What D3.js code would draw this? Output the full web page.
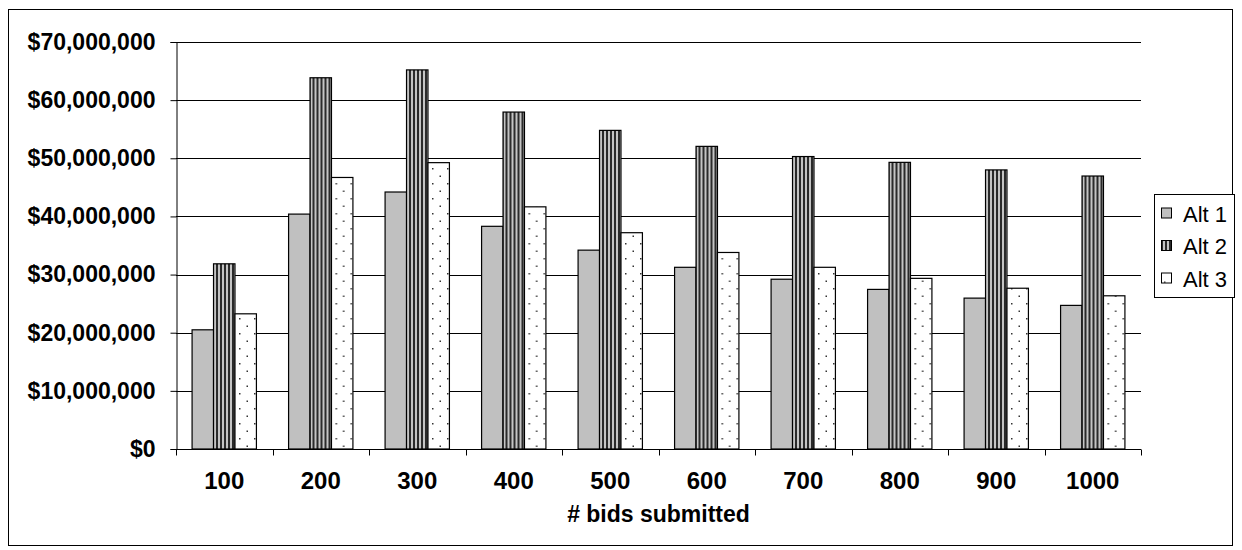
<!DOCTYPE html>
<html>
<head>
<meta charset="utf-8">
<script src="https://cdn.jsdelivr.net/npm/d3@7"></script>
<style>
  html, body { margin: 0; padding: 0; background: #fff; }
  svg { display: block; }
</style>
</head>
<body>
<svg id="chart" width="1242" height="550"></svg>
<script>
// Bid counts along the x axis
const categories = ["100", "200", "300", "400", "500", "600", "700", "800", "900", "1000"];
const seriesNames = ["Alt 1", "Alt 2", "Alt 3"];

// Dollar totals per alternative
const alt1 = [20500000, 40400000, 44200000, 38300000, 34200000, 31250000, 29200000, 27450000, 25950000, 24700000];
const alt2 = [31850000, 63850000, 65200000, 57950000, 54800000, 52050000, 50300000, 49300000, 48000000, 46950000];
const alt3 = [23250000, 46700000, 49250000, 41650000, 37200000, 33800000, 31250000, 29350000, 27650000, 26350000];

const yTicks = [0, 10000000, 20000000, 30000000, 40000000, 50000000, 60000000, 70000000];

const svg = d3.select("#chart");
const plot = { left: 176, right: 1141, top: 42, bottom: 449 };
const FONT = "'Liberation Sans', Arial, sans-serif";

// Fill patterns
const defs = svg.append("defs");
const stripes = defs.append("pattern")
  .attr("id", "stripes").attr("patternUnits", "userSpaceOnUse")
  .attr("width", 4).attr("height", 4);
stripes.append("rect").attr("width", 4).attr("height", 4).attr("fill", "#c4c4c4");
stripes.append("rect").attr("width", 2).attr("height", 4).attr("fill", "#2a2a2a");

const dots = defs.append("pattern")
  .attr("id", "dots").attr("patternUnits", "userSpaceOnUse")
  .attr("width", 15).attr("height", 15);
dots.append("rect").attr("width", 15).attr("height", 15).attr("fill", "#fff");
dots.append("rect").attr("x", 3).attr("y", 3).attr("width", 1.5).attr("height", 1.5).attr("fill", "#333");
dots.append("rect").attr("x", 10.5).attr("y", 10.5).attr("width", 1.5).attr("height", 1.5).attr("fill", "#333");

const fills = ["#c0c0c0", "url(#stripes)", "url(#dots)"];

// Outer frame
svg.append("rect")
  .attr("x", 8.5).attr("y", 9.5).attr("width", 1224).attr("height", 536)
  .attr("fill", "#fff").attr("stroke", "#000").attr("stroke-width", 1);

const x0 = d3.scaleBand().domain(categories).range([plot.left, plot.right]).padding(0);
const x1 = d3.scaleBand().domain(seriesNames)
  .range([x0.bandwidth() / 6, x0.bandwidth() * 5 / 6]).padding(0);
const y = d3.scaleLinear().domain([0, 70000000]).range([plot.bottom, plot.top]);

// Gridlines
svg.append("g").selectAll("line").data(yTicks.filter(d => d > 0)).join("line")
  .attr("x1", plot.left).attr("x2", plot.right)
  .attr("y1", d => Math.round(y(d)) + 0.5).attr("y2", d => Math.round(y(d)) + 0.5)
  .attr("stroke", "#000").attr("stroke-width", 1);

// Bars
const rows = categories.map((c, i) => ({ cat: c, vals: [alt1[i], alt2[i], alt3[i]] }));
const groups = svg.append("g").selectAll("g").data(rows).join("g")
  .attr("transform", d => `translate(${x0(d.cat)},0)`);
groups.selectAll("rect")
  .data(d => d.vals.map((v, k) => ({ name: seriesNames[k], v, k })))
  .join("rect")
  .attr("x", d => x1(d.name))
  .attr("y", d => y(d.v))
  .attr("width", x1.bandwidth())
  .attr("height", d => y(0) - y(d.v))
  .attr("fill", d => fills[d.k])
  .attr("stroke", "#000").attr("stroke-width", 1.2);

// Y axis
const yAxis = d3.axisLeft(y).tickValues(yTicks).tickSize(6).tickPadding(15)
  .tickFormat(d => "$" + d3.format(",")(d));
const gy = svg.append("g").attr("transform", `translate(${plot.left + 0.5},0)`).call(yAxis);
gy.selectAll("text")
  .attr("font-family", FONT)
  .attr("font-weight", "bold").attr("font-size", 23).attr("fill", "#000");
gy.selectAll("line, path").attr("stroke", "#000");

// X axis: ticks sit on category boundaries
const gx = svg.append("g").attr("transform", `translate(0,${plot.bottom + 0.5})`);
gx.append("line").attr("x1", plot.left).attr("x2", plot.right).attr("stroke", "#000");
gx.selectAll("line.tick").data(categories.concat(["end"])).join("line")
  .attr("class", "tick")
  .attr("x1", (d, i) => Math.round(plot.left + i * x0.step()) + 0.5)
  .attr("x2", (d, i) => Math.round(plot.left + i * x0.step()) + 0.5)
  .attr("y1", 0).attr("y2", 6).attr("stroke", "#000");
gx.selectAll("text").data(categories).join("text")
  .attr("x", d => x0(d) + x0.bandwidth() / 2)
  .attr("y", 39)
  .attr("text-anchor", "middle")
  .attr("font-family", FONT)
  .attr("font-weight", "bold").attr("font-size", 24)
  .text(d => d);

// Axis title
svg.append("text")
  .attr("x", (plot.left + plot.right) / 2).attr("y", 522)
  .attr("text-anchor", "middle")
  .attr("font-family", FONT)
  .attr("font-weight", "bold").attr("font-size", 23)
  .text("# bids submitted");

// Legend
const lg = svg.append("g");
lg.append("rect").attr("x", 1154.5).attr("y", 194.5).attr("width", 80).attr("height", 103)
  .attr("fill", "#fff").attr("stroke", "#000");
const items = lg.selectAll("g").data(seriesNames).join("g")
  .attr("transform", (d, i) => `translate(1161,${213.5 + i * 32.5})`);
items.append("rect").attr("x", 0.5).attr("y", -5.5).attr("width", 10).attr("height", 10)
  .attr("fill", (d, i) => fills[i]).attr("stroke", "#000");
items.append("text").attr("x", 22).attr("y", 8)
  .attr("font-family", FONT)
  .attr("font-size", 22)
  .text(d => d);
</script>
</body>
</html>
